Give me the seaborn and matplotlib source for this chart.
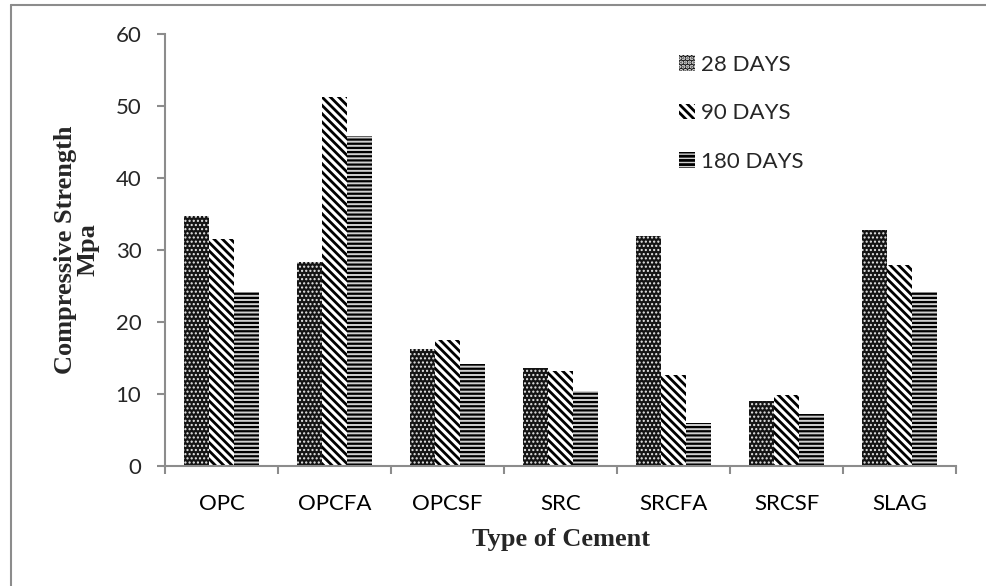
import matplotlib
matplotlib.use("Agg")
import matplotlib.pyplot as plt
import matplotlib.patches as mpatches
from matplotlib.lines import Line2D
import seaborn as sns
import pandas as pd

categories = ["OPC", "OPCFA", "OPCSF", "SRC", "SRCFA", "SRCSF", "SLAG"]
days_28 = [34.7, 28.3, 16.3, 13.6, 31.9, 9.0, 32.8]
days_90 = [31.5, 51.2, 17.5, 13.2, 12.6, 9.9, 27.9]
days_180 = [24.1, 45.8, 14.2, 10.4, 6.0, 7.2, 24.2]
series_labels = ["28 DAYS", "90 DAYS", "180 DAYS"]
y_ticks = [0, 10, 20, 30, 40, 50, 60]

rows = []
for lab, vals in zip(series_labels, [days_28, days_90, days_180]):
    for c, v in zip(categories, vals):
        rows.append({"Cement": c, "Strength": v, "Age": lab})
df = pd.DataFrame(rows)

sns.set_style("white")
plt.rcParams["hatch.linewidth"] = 2.0

W, H = 987, 586
fig = plt.figure(figsize=(W / 100, H / 100), dpi=100)
ax_l, ax_r, ax_b, ax_t = 165, 956, 466, 34
ax = fig.add_axes([ax_l / W, 1 - ax_b / H, (ax_r - ax_l) / W, (ax_b - ax_t) / H])

sns.barplot(data=df, x="Cement", y="Strength", hue="Age", order=categories,
            hue_order=series_labels, palette=["black", "white", "white"],
            width=0.66, errorbar=None, saturation=1, legend=False, ax=ax)

styles = [
    dict(facecolor="#141414", edgecolor="#e8e8e8", hatch="....", hlw=1.0),
    dict(facecolor="white", edgecolor="black", hatch="\\\\\\\\", hlw=2.0),
    dict(facecolor="#d0d0d0", edgecolor="black", hatch="----", hlw=1.6),
]
for cont, st in zip(ax.containers, styles):
    for p in cont.patches:
        p.set_facecolor(st["facecolor"])
        p.set_edgecolor(st["edgecolor"])
        p.set_hatch(st["hatch"])
        p.set_linewidth(0)
        try:
            p.set_hatch_linewidth(st["hlw"])
        except Exception:
            pass

axis_gray = "#8c8c8c"
ax.set_ylim(0, 60)
ax.set_xlim(-0.5, len(categories) - 0.5)
ax.set_yticks(y_ticks)
ax.set_xticks(range(len(categories)))
ax.set_xticklabels(categories)
ax.set_xticks([i - 0.5 for i in range(len(categories) + 1)], minor=True)
for s in ["top", "right"]:
    ax.spines[s].set_visible(False)
for s in ["left", "bottom"]:
    ax.spines[s].set_color(axis_gray)
    ax.spines[s].set_linewidth(1.5)

tick_font = "Lato"
ax.tick_params(axis="x", which="major", length=0, pad=20, labelsize=16,
               labelcolor="black")
ax.tick_params(axis="x", which="minor", length=6, width=1.5, color=axis_gray,
               direction="out", bottom=True)
ax.tick_params(axis="y", which="major", length=6, width=1.5, color=axis_gray,
               direction="out", left=True, pad=11, labelsize=16)
for lbl in ax.get_xticklabels() + ax.get_yticklabels():
    lbl.set_family(tick_font)

ax.set_xlabel("Type of Cement", family="Liberation Serif", fontweight="bold",
              fontsize=19)
ax.set_ylabel("Compressive Strength\nMpa", family="Liberation Serif",
              fontweight="bold", fontsize=19, linespacing=1.0)
ax.xaxis.set_label_coords(0.5, (ax_b - 528) / (ax_b - ax_t))
ax.yaxis.set_label_coords((100 - ax_l) / (ax_r - ax_l), 0.5)

handles = [mpatches.Patch(facecolor=st["facecolor"], edgecolor=st["edgecolor"],
                          hatch=st["hatch"], linewidth=0) for st in styles]
leg = ax.legend(handles, series_labels, loc="upper left",
                bbox_to_anchor=(679 / W, 1 - 55 / H),
                bbox_transform=fig.transFigure, frameon=False,
                prop={"family": tick_font, "size": 16},
                handlelength=0.7, handleheight=0.7, handletextpad=0.3,
                labelspacing=1.28, borderpad=0, borderaxespad=0)

# outer chart-area frame (left and top edges visible)
fig.add_artist(Line2D([11 / W, 11 / W], [0, 1 - 5 / H], color=axis_gray,
                      linewidth=1.5, transform=fig.transFigure))
fig.add_artist(Line2D([11 / W, 1], [1 - 5 / H, 1 - 5 / H], color=axis_gray,
                      linewidth=1.5, transform=fig.transFigure))

fig.savefig("out.png", dpi=100)
